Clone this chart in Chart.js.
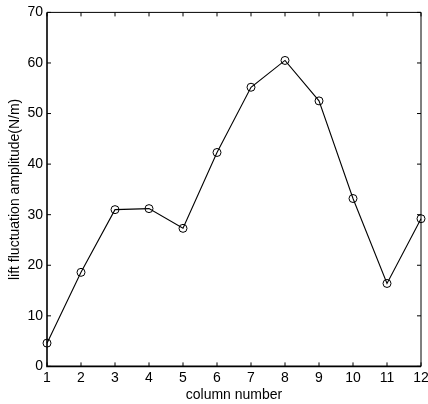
<!DOCTYPE html>
<html>
<head>
<meta charset="utf-8">
<script src="https://cdn.jsdelivr.net/npm/chart.js@4"></script>
<style>
  html, body { margin: 0; padding: 0; background: #fff; }
  #wrap { position: relative; width: 428px; height: 404px; overflow: hidden; }
</style>
</head>
<body>
<div id="wrap"><canvas id="c" width="428" height="404"></canvas></div>
<script>
var columns = [1, 2, 3, 4, 5, 6, 7, 8, 9, 10, 11, 12];
var amplitude = [4.6, 18.6, 31.0, 31.2, 27.3, 42.3, 55.2, 60.5, 52.5, 33.2, 16.4, 29.2];
var yTicks = [0, 10, 20, 30, 40, 50, 60, 70];

var font = { family: "Liberation Sans", size: 14 };

// inward ticks and the box round the plot, left and bottom sides are heavier
var boxTicks = {
  id: "boxTicks",
  afterDraw: function (chart) {
    var a = chart.chartArea, x = chart.scales.x, y = chart.scales.y, g = chart.ctx;
    g.save();
    g.strokeStyle = "#000";
    g.lineWidth = 1;
    g.beginPath();
    g.moveTo(a.left, a.top); g.lineTo(a.right, a.top); g.lineTo(a.right, a.bottom);
    columns.forEach(function (v) {
      var p = x.getPixelForValue(v);
      g.moveTo(p, a.bottom); g.lineTo(p, a.bottom - 4);
      g.moveTo(p, a.top); g.lineTo(p, a.top + 4);
    });
    yTicks.forEach(function (v) {
      var p = y.getPixelForValue(v);
      g.moveTo(a.left, p); g.lineTo(a.left + 4, p);
      g.moveTo(a.right, p); g.lineTo(a.right - 4, p);
    });
    g.stroke();
    g.lineWidth = 1.6;
    g.beginPath();
    g.moveTo(a.left, a.top); g.lineTo(a.left, a.bottom); g.lineTo(a.right, a.bottom);
    g.stroke();
    g.restore();
  }
};

new Chart(document.getElementById("c"), {
  type: "line",
  data: {
    datasets: [{
      data: columns.map(function (c, i) { return { x: c, y: amplitude[i] }; }),
      borderColor: "#000",
      borderWidth: 1.1,
      backgroundColor: "transparent",
      pointStyle: "circle",
      pointRadius: 4,
      pointBorderColor: "#000",
      pointBorderWidth: 1,
      pointBackgroundColor: "transparent",
      tension: 0,
      clip: false
    }]
  },
  options: {
    responsive: false,
    animation: false,
    layout: { padding: { left: 7, right: 0, top: 1.5, bottom: 0 } },
    plugins: { legend: { display: false }, title: { display: false }, tooltip: { enabled: false } },
    scales: {
      x: {
        type: "linear",
        min: 1,
        max: 12,
        afterFit: function (s) { s.paddingRight = 7; s.height -= 2; },
        grid: { display: false, drawTicks: false },
        border: { display: false },
        ticks: {
          stepSize: 1,
          autoSkip: false,
          maxRotation: 0,
          padding: 3,
          color: "#000",
          font: font
        },
        title: { display: true, text: "column number", color: "#000", font: font, padding: { top: 0, bottom: 0 } }
      },
      y: {
        min: 0,
        max: 70,
        afterFit: function (s) { s.width = 40; },
        grid: { display: false, drawTicks: false },
        border: { display: false },
        ticks: { stepSize: 10, padding: 4, color: "#000", font: font },
        title: { display: true, text: "lift fluctuation amplitude(N/m)", color: "#000", font: font, padding: { top: 0, bottom: 2 } }
      }
    }
  },
  plugins: [boxTicks]
});
</script>
</body>
</html>
